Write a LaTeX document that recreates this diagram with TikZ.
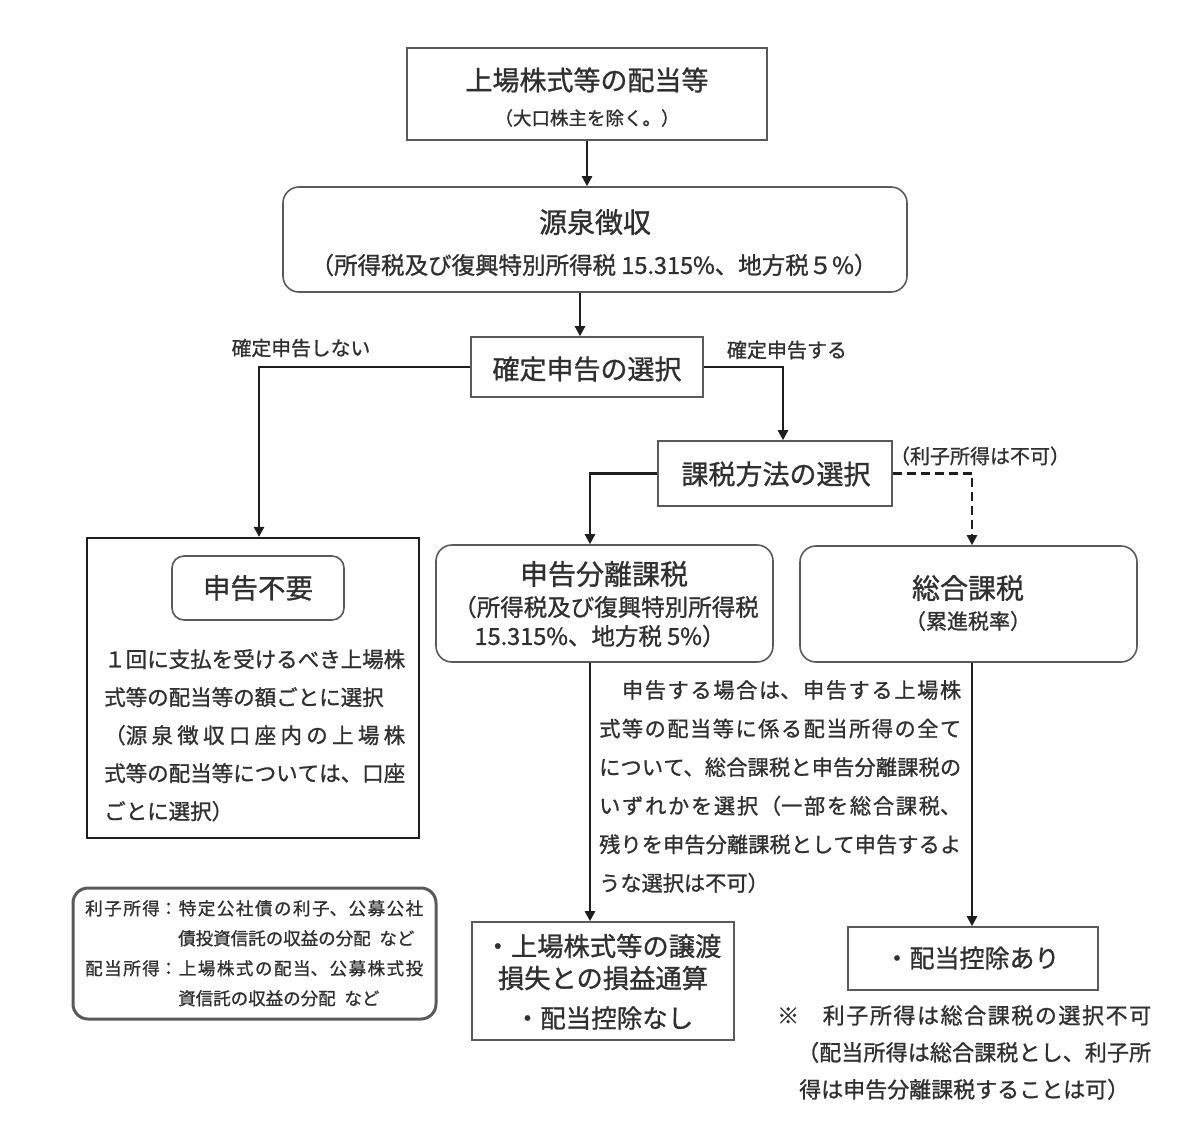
\documentclass[tikz,border=0pt]{standalone}
\usepackage{fontspec}
\setmainfont{Noto Sans CJK JP}[FakeBold=1.0]
\XeTeXlinebreaklocale "ja"
\XeTeXlinebreakskip=0pt plus 1fil minus 2pt
\usetikzlibrary{arrows.meta}
\definecolor{textcol}{HTML}{303030}
\definecolor{boxcol}{HTML}{5A5A5A}
\definecolor{linecol}{HTML}{1E1E1E}
\newcommand{\fs}[2]{\fontsize{#1}{#2}\selectfont}
\newcommand{\jl}[2]{\parbox[t]{#1}{\parfillskip=0pt\relax #2}}
\begin{document}
\begin{tikzpicture}[x=1pt,y=-1pt,
  box/.style={draw=boxcol, line width=1.6pt, inner sep=0pt, fill=white},
  rbox/.style={box, rounded corners=16pt},
  arr/.style={draw=linecol, line width=2.4pt, -{Triangle[length=10pt,width=10pt]}},
  darr/.style={arr, dash pattern=on 9pt off 5pt},
  txt/.style={inner sep=0pt, text=textcol},
  para/.style={txt, align=left, anchor=north west}
]
\useasboundingbox (0,0) rectangle (1200,1141);
\fill[white] (0,0) rectangle (1200,1141);

% boxes
\node[box, minimum width=360pt, minimum height=92pt] (b1) at (587,94) {};
\node[rbox, minimum width=624pt, minimum height=105pt] (b2) at (595,239.5) {};
\node[box, minimum width=232pt, minimum height=60pt] (b3) at (587,367) {};
\node[box, minimum width=234pt, minimum height=65pt] (b4) at (775,473.5) {};
\node[box, draw=linecol, line width=2.2pt, minimum width=332pt, minimum height=300pt] (b5) at (253,688) {};
\node[rbox, rounded corners=12pt, minimum width=172pt, minimum height=64pt] (b5i) at (258,588) {};
\node[rbox, minimum width=337pt, minimum height=117pt] (b6) at (604.5,603.5) {};
\node[rbox, minimum width=337pt, minimum height=116pt] (b7) at (968.5,604) {};
\node[box, minimum width=262pt, minimum height=118pt] (b8) at (603,981) {};
\node[box, minimum width=250pt, minimum height=63pt] (b9) at (973,958.5) {};
\node[box, draw=boxcol, line width=3pt, rounded corners=15pt, minimum width=363pt, minimum height=131pt] (b10) at (254.5,953.5) {};

% connectors
\draw[arr] (b1.south) -- (b1.south |- b2.north);
\draw[arr] ([xshift=-7pt]b3.north |- b2.south) -- ([xshift=-7pt]b3.north);
\draw[arr] (b3.west) -| ([xshift=6pt]b5.north);
\draw[arr] (b3.east) -| ([xshift=8pt]b4.north);
\draw[arr] (b4.west) -| ([xshift=-14.5pt]b6.north);
\draw[darr] (b4.east) -| ([xshift=3.5pt]b7.north);
\draw[arr] ([xshift=-14.5pt]b6.south) -- ([xshift=-14.5pt]b6.south |- b8.north);
\draw[arr] ([xshift=3.5pt]b7.south) -- ([xshift=3.5pt]b7.south |- b9.north);

% texts
\node[txt, font=\fs{27}{31}] (t1a) at (587,80) {上場株式等の配当等};
\node[txt, font=\fs{18.5}{22}] (t1b) at (587,118) {（大口株主を除く。）};
\node[txt, font=\fs{28}{32}] (t2a) at (595,222) {源泉徴収};
\node[txt, font=\fs{23.5}{27}] (t2b) at (594,265) {（所得税及び復興特別所得税 15.315\%、地方税５\%）};
\node[txt, font=\fs{27}{31}] (t3) at (587,369) {確定申告の選択};
\node[txt, font=\fs{19.8}{23}] (l1) at (301,348) {確定申告しない};
\node[txt, font=\fs{20}{23}] (l2) at (787,350) {確定申告する};
\node[txt, font=\fs{27}{31}] (t4) at (776,474) {課税方法の選択};
\node[txt, font=\fs{20}{23}] (l3) at (980,456) {（利子所得は不可）};
\node[txt, font=\fs{27.5}{31}] (t5) at (258,588) {申告不要};
\node[para, font=\fs{21.5}{38}] (t5b) at (104,649) {\jl{301pt}{１回に支払を受けるべき上場株}\\式等の配当等の額ごとに選択\\\jl{301pt}{（源泉徴収口座内の上場株}\\\jl{301pt}{式等の配当等については、口座}\\ごとに選択）};
\node[txt, font=\fs{28}{32}] (t6a) at (604,574) {申告分離課税};
\node[txt, font=\fs{23.5}{27}] (t6b) at (606,607) {（所得税及び復興特別所得税};
\node[txt, font=\fs{23.5}{27}] (t6c) at (600,636) {15.315\%、地方税 5\%）};
\node[txt, font=\fs{28}{32}] (t7a) at (968,588) {総合課税};
\node[txt, font=\fs{21}{24}] (t7b) at (968,621) {（累進税率）};
\node[para, font=\fs{21.2}{38.6}] (tm) at (599,680) {\jl{362pt}{　申告する場合は、申告する上場株}\\\jl{362pt}{式等の配当等に係る配当所得の全て}\\\jl{362pt}{について、総合課税と申告分離課税の}\\\jl{362pt}{いずれかを選択（一部を総合課税、}\\\jl{362pt}{残りを申告分離課税として申告するよ}\\うな選択は不可）};
\node[txt, font=\fs{26.3}{30}] (t8a) at (603,946) {・上場株式等の譲渡};
\node[txt, font=\fs{26.3}{30}] (t8b) at (603,978) {損失との損益通算};
\node[txt, font=\fs{25.5}{30}] (t8c) at (604,1018) {・配当控除なし};
\node[txt, font=\fs{25}{28}] (t9) at (972,958) {・配当控除あり};
\node[para, font=\fs{22}{37}] (tn) at (777,1005) {\jl{374pt}{※　利子所得は総合課税の選択不可}\\\hspace*{20pt}\jl{354pt}{（配当所得は総合課税とし、利子所}\\\hspace*{22pt}得は申告分離課税することは可）};
\node[para, font=\fs{17.5}{30}] (t10) at (85,900) {\jl{338pt}{利子所得：特定公社債の利子、公募公社}\\\hspace*{93pt}債投資信託の収益の分配\hspace{0.5em}など\\\jl{338pt}{配当所得：上場株式の配当、公募株式投}\\\hspace*{93pt}資信託の収益の分配\hspace{0.5em}など};
\end{tikzpicture}
\end{document}
